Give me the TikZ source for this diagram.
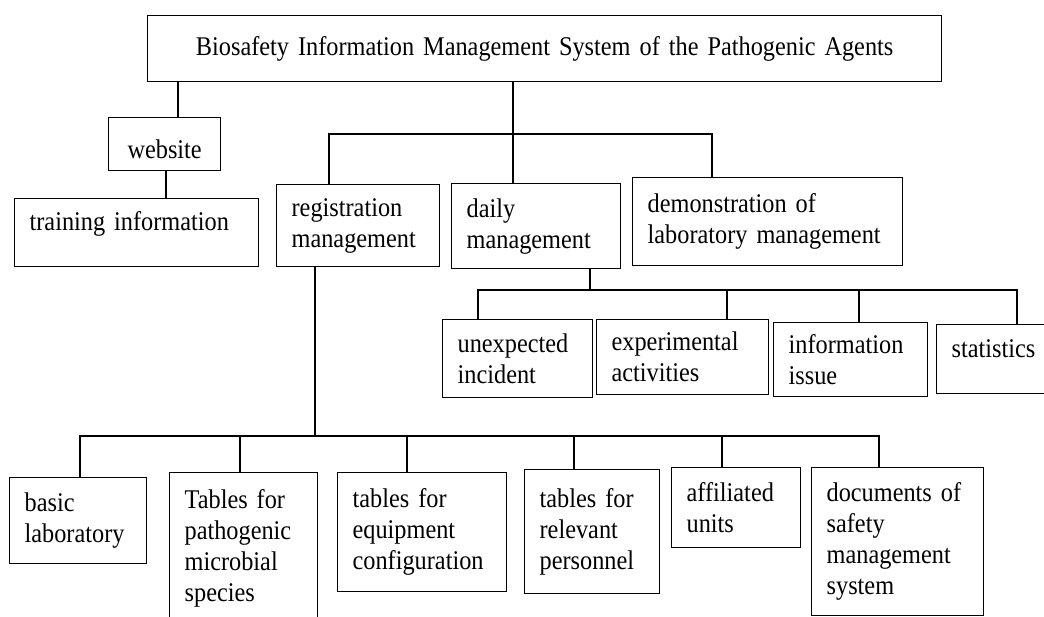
\documentclass[tikz,border=0pt]{standalone}
\usepackage{fontspec}
\setmainfont[FakeStretch=0.9]{Liberation Serif}
\usepackage{tikz}

\begin{document}
\begin{tikzpicture}[x=1pt, y=-1pt,
        box/.style={draw, line width=1.3pt, anchor=north west, inner xsep=15pt, inner ysep=2pt,
            align=left, font=\fontsize{27}{31}\selectfont},
        link/.style={line width=1.3pt}]
        \useasboundingbox (0,0) rectangle (1044,617);
        \clip (0,0) rectangle (1044,617);

        % top levels
        \node[box, align=center, text width=764pt, minimum height=66pt] (title) at (147,15)
            {Biosafety Information Management System of the Pathogenic Agents};
        \node[box, align=center, text width=82pt, minimum height=53pt, text height=28pt, text depth=0pt] (website) at (108,117) {website};
        \node[box, text width=214pt, minimum height=68pt, text height=17pt, text depth=21pt] (training) at (14,198) {training information};
        \node[box, text width=133pt, minimum height=82pt] (reg) at (276,184) {registration\\ management};
        \node[box, text width=139pt, minimum height=85pt] (daily) at (451,183) {daily\\ management};
        \node[box, text width=240pt, minimum height=88pt] (demo) at (632,177) {demonstration of\\ laboratory management};

        % daily management
        \node[box, text width=120pt, minimum height=78pt] (unexp) at (442,319) {unexpected\\ incident};
        \node[box, text width=142pt, minimum height=75pt] (exper) at (596,319) {experimental\\ activities};
        \node[box, text width=124pt, minimum height=74pt] (info) at (773,322) {information\\ issue};
        \node[box, text width=94pt, minimum height=69pt, text height=17pt, text depth=20pt] (stats) at (936,324) {statistics};

        % registration management
        \node[box, text width=107pt, minimum height=86pt] (basic) at (9,477) {basic\\ laboratory};
        \node[box, text width=118pt, minimum height=152pt] (patho) at (169,472) {Tables for\\ pathogenic\\ microbial\\ species};
        \node[box, text width=139pt, minimum height=119pt] (equip) at (337,472) {tables for\\ equipment\\ configuration};
        \node[box, text width=105pt, minimum height=124pt] (relev) at (524,469) {tables for\\ relevant\\ personnel};
        \node[box, text width=99pt, minimum height=80pt] (affil) at (671,467) {affiliated\\ units};
        \node[box, text width=142pt, minimum height=148pt] (docs) at (811,467) {documents of\\ safety\\ management\\ system};

        \coordinate (jtop) at (513,134);
        \coordinate (jday) at (590,290);
        \coordinate (jreg) at (315,436);

        \draw[link] (title.south -| 178,0) -- (website.north -| 178,0);
        \draw[link] (website.south -| 166,0) -- (training.north -| 166,0);
        \draw[link] (title.south -| jtop) -- (daily.north -| jtop);
        \draw[link] (reg.north -| 329,0) |- (jtop) -| (demo.north -| 712,0);
        \draw[link] (daily.south -| jday) -- (jday);
        \draw[link] (unexp.north -| 478,0) |- (jday) -| (stats.north -| 1017,0);
        \draw[link] (exper.north -| 727,0) -- (jday -| 727,0);
        \draw[link] (info.north -| 859,0) -- (jday -| 859,0);
        \draw[link] (reg.south -| jreg) -- (jreg);
        \draw[link] (basic.north -| 80,0) |- (jreg) -| (docs.north -| 879,0);
        \foreach \n/\x in {patho/240, equip/407, relev/574, affil/722}
            \draw[link] (\n.north -| \x,0) -- (jreg -| \x,0);
    \end{tikzpicture}
\end{document}
